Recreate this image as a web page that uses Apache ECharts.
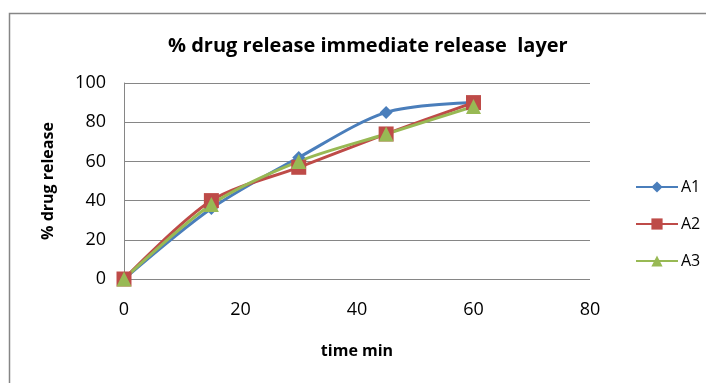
<!DOCTYPE html>
<html>
<head>
<meta charset="utf-8">
<script src="https://cdn.jsdelivr.net/npm/echarts@6/dist/echarts.min.js"></script>
<style>html,body{margin:0;padding:0;background:#fff;}#c{width:706px;height:383px;}</style>
</head>
<body>
<div id="c"></div>
<script>
const times = [0, 15, 30, 45, 60];
const A1 = [0, 36, 62, 85, 90];
const A2 = [0, 40, 57, 74, 90];
const A3 = [0, 38, 60, 74, 88];
const seriesNames = ['A1', 'A2', 'A3'];
const titleText = '% drug release immediate release  layer';
const xName = 'time min';
const yName = '% drug release';

const FONT = 'Open Sans';
const chart = echarts.init(document.getElementById('c'));
const pair = arr => times.map((t, i) => [t, arr[i]]);
const mk = (name, data, color, symbol, size) => ({
  name, type: 'line', data: pair(data), smooth: 0.3,
  symbol, symbolSize: size, showSymbol: true,
  lineStyle: { color, width: 3 }, itemStyle: { color },
  emphasis: { disabled: true }
});
chart.setOption({
  animation: false,
  textStyle: { fontFamily: FONT },
  title: {
    text: titleText, left: 163, top: 31,
    textStyle: { fontFamily: FONT, fontSize: 20, fontWeight: 'bold', color: '#000' }
  },
  graphic: [{
    type: 'polyline', silent: true,
    shape: { points: [[9.5, 400], [9.5, 13.5], [720, 13.5]] },
    style: { stroke: '#868686', lineWidth: 1.5, fill: null }
  }],
  legend: {
    orient: 'vertical', left: 630, top: 174,
    itemWidth: 42, itemHeight: 14, itemGap: 21,
    data: seriesNames,
    textStyle: { fontFamily: FONT, fontSize: 16, color: '#000', padding: [0, 0, 0, -2] }
  },
  grid: { left: 124, right: 116, top: 83, bottom: 104 },
  xAxis: {
    type: 'value', min: 0, max: 80, interval: 20,
    name: xName, nameLocation: 'middle', nameGap: 64,
    nameTextStyle: { fontFamily: FONT, fontSize: 16, fontWeight: 'bold', color: '#000' },
    axisLine: { show: false },
    axisTick: { show: false },
    splitLine: { show: false },
    axisLabel: { fontFamily: FONT, fontSize: 18, color: '#000', margin: 22 }
  },
  yAxis: {
    type: 'value', min: 0, max: 100, interval: 20,
    name: yName, nameLocation: 'middle', nameGap: 68, nameRotate: 90,
    nameTextStyle: { fontFamily: FONT, fontSize: 16, fontWeight: 'bold', color: '#000' },
    axisLine: { show: true, lineStyle: { color: '#868686', width: 1 } },
    axisTick: { show: false },
    splitLine: { show: true, lineStyle: { color: '#868686', width: 1 } },
    axisLabel: { fontFamily: FONT, fontSize: 18, color: '#000', margin: 18 }
  },
  series: [
    mk('A1', A1, '#4A7EBB', 'diamond', 13),
    mk('A2', A2, '#BE4B48', 'rect', 15),
    mk('A3', A3, '#98B954', 'triangle', 15)
  ]
});
</script>
</body>
</html>
